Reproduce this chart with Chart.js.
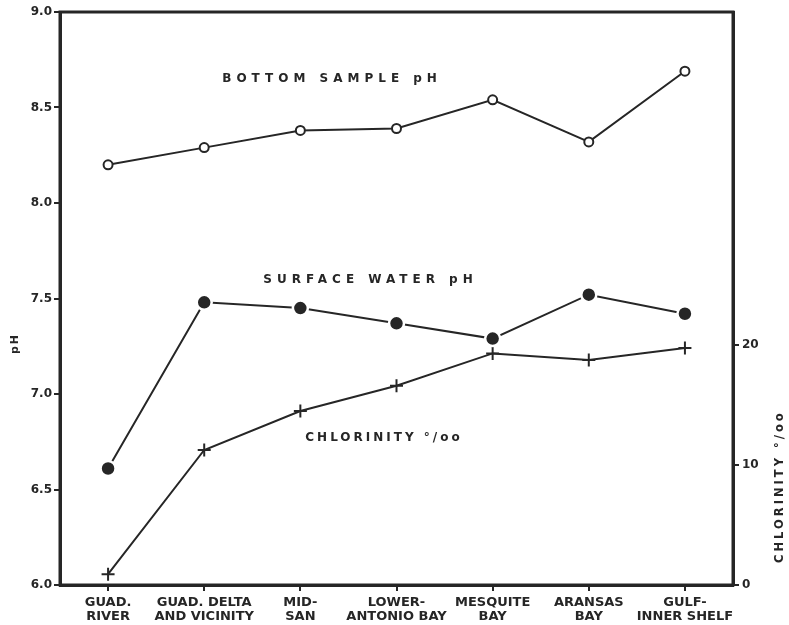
<!DOCTYPE html>
<html>
<head>
<meta charset="utf-8">
<script src="https://cdn.jsdelivr.net/npm/chart.js@4.4.1/dist/chart.umd.min.js"></script>
<style>
  html, body { margin: 0; padding: 0; background: #fff; }
  #wrap { width: 789px; height: 625px; }
</style>
</head>
<body>
<div id="wrap"><canvas id="c" width="789" height="625"></canvas></div>
<script>
const categories = [
  ["GUAD.", "RIVER"],
  ["GUAD. DELTA", "AND VICINITY"],
  ["MID-", "SAN"],
  ["LOWER-", "ANTONIO BAY"],
  ["MESQUITE", "BAY"],
  ["ARANSAS", "BAY"],
  ["GULF-", "INNER SHELF"]
];
const bottomSamplePH = [8.20, 8.29, 8.38, 8.39, 8.54, 8.32, 8.69];
const surfaceWaterPH = [6.61, 7.48, 7.45, 7.37, 7.29, 7.52, 7.42];
const chlorinity = [0.9, 11.25, 14.5, 16.6, 19.3, 18.75, 19.75];
const phTicks = [6.0, 6.5, 7.0, 7.5, 8.0, 8.5, 9.0];
const chlorinityTicks = [0, 10, 20];

const INK = '#262626';
const FONT = '"DejaVu Sans", "Liberation Sans", sans-serif';

const annotations = {
  id: 'annotations',
  afterDraw(chart) {
    const { ctx, chartArea, scales } = chart;
    ctx.save();
    // frame
    ctx.strokeStyle = INK;
    ctx.lineWidth = 3;
    ctx.strokeRect(chartArea.left, chartArea.top, chartArea.right - chartArea.left, chartArea.bottom - chartArea.top);

    ctx.fillStyle = INK;
    ctx.textAlign = 'center';
    ctx.textBaseline = 'middle';
    ctx.font = 'bold 12px ' + FONT;
    const label = (text, idx, ph, spacing) => {
      ctx.letterSpacing = spacing;
      ctx.fillText(text, scales.x.getPixelForValue(idx), scales.y.getPixelForValue(ph));
    };
    label('BOTTOM SAMPLE pH', 2.33, 8.65, '5px');
    label('SURFACE WATER pH', 2.73, 7.6, '5px');
    label('CHLORINITY °/oo', 2.87, 6.77, '3px');

    // axis titles
    ctx.letterSpacing = '2px';
    ctx.font = 'bold 11px ' + FONT;
    ctx.save();
    ctx.translate(15, (chartArea.top + chartArea.bottom) / 2 + 45);
    ctx.rotate(-Math.PI / 2);
    ctx.fillText('pH', 0, 0);
    ctx.restore();

    ctx.save();
    ctx.font = 'bold 11.5px ' + FONT;
    ctx.letterSpacing = '3px';
    ctx.translate(780, scales.y1.getPixelForValue(8.2));
    ctx.rotate(-Math.PI / 2);
    ctx.fillText('CHLORINITY °/oo', 0, 0);
    ctx.restore();
    ctx.restore();
  }
};

new Chart(document.getElementById('c'), {
  type: 'line',
  data: {
    labels: categories,
    datasets: [
      {
        label: 'Bottom sample pH',
        data: bottomSamplePH,
        yAxisID: 'y',
        borderColor: INK,
        borderWidth: 2,
        pointStyle: 'circle',
        pointRadius: 4.5,
        pointBackgroundColor: '#fff',
        pointBorderColor: INK,
        pointBorderWidth: 2,
        tension: 0
      },
      {
        label: 'Surface water pH',
        data: surfaceWaterPH,
        yAxisID: 'y',
        borderColor: INK,
        borderWidth: 2,
        pointStyle: 'circle',
        pointRadius: 7.5,
        pointBackgroundColor: INK,
        pointBorderColor: '#fff',
        pointBorderWidth: 2.5,
        tension: 0
      },
      {
        label: 'Chlorinity',
        data: chlorinity,
        yAxisID: 'y1',
        borderColor: INK,
        borderWidth: 2,
        pointStyle: 'cross',
        pointRadius: 6.5,
        pointBorderColor: INK,
        pointBorderWidth: 2,
        tension: 0
      }
    ]
  },
  options: {
    responsive: false,
    animation: false,
    events: [],
    layout: { padding: { top: 12, left: 0, right: 0, bottom: 0 } },
    plugins: { legend: { display: false }, tooltip: { enabled: false } },
    scales: {
      x: {
        type: 'category',
        offset: true,
        afterFit(s) { s.height = 40; },
        grid: { display: true, drawOnChartArea: false, offset: false, tickLength: 6, color: INK, lineWidth: 2 },
        border: { display: true, color: INK, width: 3 },
        ticks: {
          color: INK,
          padding: 5,
          maxRotation: 0,
          autoSkip: false,
          font: { family: FONT, size: 13, weight: 'bold', lineHeight: 1.08 }
        }
      },
      y: {
        position: 'left',
        min: 6,
        max: 9,
        afterFit(s) { s.width = 60; },
        afterBuildTicks(s) { s.ticks = phTicks.map(v => ({ value: v })); },
        grid: { display: true, drawOnChartArea: false, tickLength: 6, color: INK, lineWidth: 2 },
        border: { display: true, color: INK, width: 3 },
        ticks: {
          color: INK,
          padding: 2,
          font: { family: FONT, size: 12, weight: 'bold' },
          callback: v => Number(v).toFixed(1)
        }
      },
      y1: {
        position: 'right',
        min: 0,
        max: 47.75,
        afterFit(s) { s.width = 56; },
        afterBuildTicks(s) { s.ticks = chlorinityTicks.map(v => ({ value: v })); },
        grid: { display: true, drawOnChartArea: false, tickLength: 6, color: INK, lineWidth: 2 },
        border: { display: true, color: INK, width: 3 },
        ticks: {
          color: INK,
          padding: 3,
          font: { family: FONT, size: 12, weight: 'bold' },
          callback: v => String(v)
        }
      }
    }
  },
  plugins: [annotations]
});
</script>
</body>
</html>
